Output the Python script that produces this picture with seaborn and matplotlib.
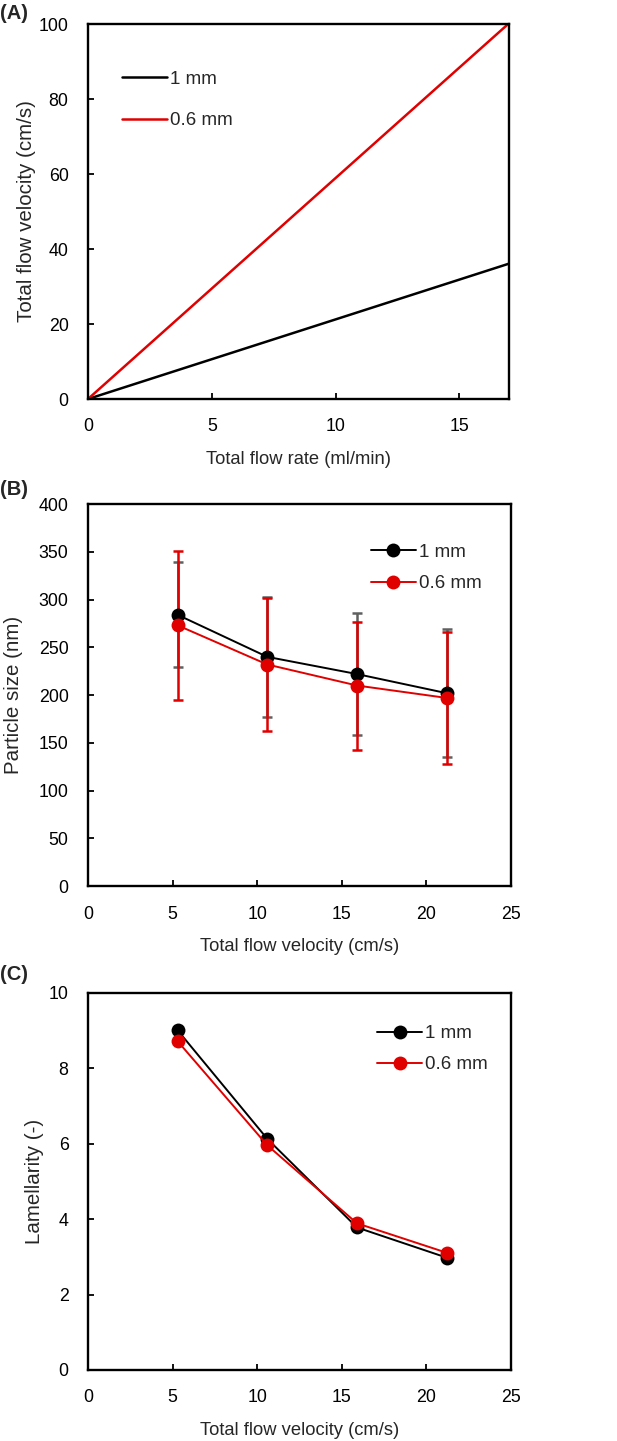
import numpy as np
import pandas as pd
import seaborn as sns
import matplotlib.pyplot as plt

# Panel A: total flow velocity vs total flow rate
flow_rate = [0, 17]
vel_1mm = [0, 36.1]
vel_06mm = [0, 100.2]

# Panels B and C: measured at four flow velocities
velocity = [5.3, 10.6, 15.9, 21.2]
size_1mm = [284, 240, 222, 202]
size_1mm_err = [55, 63, 64, 67]
size_06mm = [273, 232, 210, 197]
size_06mm_err = [78, 70, 67, 69]
lam_1mm = [9.01, 6.13, 3.78, 2.98]
lam_06mm = [8.72, 5.96, 3.89, 3.11]

labels = ["1 mm", "0.6 mm"]
colors = {"1 mm": "black", "0.6 mm": "#e00000"}

sns.set_style("white")
plt.rcParams['font.family'] = ['Liberation Sans', 'DejaVu Sans']
plt.rcParams['font.size'] = 13

fig = plt.figure(figsize=(6.17, 14.41), dpi=100)
ax_a = fig.add_axes([0.1426, 0.7231, 0.6823, 0.2602])
ax_b = fig.add_axes([0.1426, 0.3851, 0.6855, 0.2651])
ax_c = fig.add_axes([0.1426, 0.0493, 0.6855, 0.2616])

def style_axes(ax, ypad):
    for s in ax.spines.values():
        s.set_linewidth(1.7)
        s.set_color("black")
    ax.tick_params(direction="in", length=4, width=1.3, labelsize=12.8, pad=14,
                   bottom=True, left=True, colors="black")
    ax.xaxis.label.set_size(13.2)
    ax.yaxis.label.set_size(14.8)
    ax.xaxis.labelpad = 11
    ax.yaxis.labelpad = ypad

# (A)
df_a = pd.DataFrame({
    "Total flow rate": flow_rate * 2,
    "Velocity": vel_1mm + vel_06mm,
    "Channel": [labels[0]] * 2 + [labels[1]] * 2,
})
sns.lineplot(data=df_a, x="Total flow rate", y="Velocity", hue="Channel",
             palette=colors, linewidth=1.8, ax=ax_a)
ax_a.set_xlim(0, 17)
ax_a.set_ylim(0, 100)
ax_a.set_xticks([0, 5, 10, 15])
ax_a.set_yticks(range(0, 101, 20))
ax_a.set_xlabel("Total flow rate (ml/min)")
ax_a.set_ylabel("Total flow velocity (cm/s)")
ax_a.legend(frameon=False, loc="upper left", bbox_to_anchor=(0.04, 0.921),
            handlelength=2.4, handletextpad=0.15, labelspacing=1.3, fontsize=13.5)
style_axes(ax_a, 2)

# (B)
ax_b.errorbar(velocity, size_1mm, yerr=size_1mm_err, fmt="none", ecolor="#606060",
              elinewidth=1.8, capsize=3.5, capthick=1.8, zorder=1)
ax_b.errorbar(velocity, size_06mm, yerr=size_06mm_err, fmt="none", ecolor="#e00000",
              elinewidth=1.8, capsize=3.5, capthick=1.8, zorder=2)
df_b = pd.DataFrame({
    "Velocity": velocity * 2,
    "Size": size_1mm + size_06mm,
    "Channel": [labels[0]] * 4 + [labels[1]] * 4,
})
sns.lineplot(data=df_b, x="Velocity", y="Size", hue="Channel", palette=colors,
             marker="o", markersize=10, markeredgewidth=0, linewidth=1.4, ax=ax_b, zorder=3)
ax_b.set_xlim(0, 25)
ax_b.set_ylim(0, 400)
ax_b.set_xticks(range(0, 26, 5))
ax_b.set_yticks(range(0, 401, 50))
ax_b.set_xlabel("Total flow velocity (cm/s)")
ax_b.set_ylabel("Particle size (nm)")
ax_b.legend(frameon=False, loc="upper right", bbox_to_anchor=(0.97, 0.94),
            handlelength=2.4, handletextpad=0.15, labelspacing=0.75, fontsize=13.5)
style_axes(ax_b, 11)

# (C)
df_c = pd.DataFrame({
    "Velocity": velocity * 2,
    "Lamellarity": lam_1mm + lam_06mm,
    "Channel": [labels[0]] * 4 + [labels[1]] * 4,
})
sns.lineplot(data=df_c, x="Velocity", y="Lamellarity", hue="Channel", palette=colors,
             marker="o", markersize=10, markeredgewidth=0, linewidth=1.4, ax=ax_c)
ax_c.set_xlim(0, 25)
ax_c.set_ylim(0, 10)
ax_c.set_xticks(range(0, 26, 5))
ax_c.set_yticks(range(0, 11, 2))
ax_c.set_xlabel("Total flow velocity (cm/s)")
ax_c.set_ylabel("Lamellarity (-)")
ax_c.legend(frameon=False, loc="upper right", bbox_to_anchor=(0.985, 0.96),
            handlelength=2.4, handletextpad=0.15, labelspacing=0.75, fontsize=13.5)
style_axes(ax_c, 3)

for lbl, y in [("(A)", 0.9905), ("(B)", 0.6605), ("(C)", 0.3235)]:
    fig.text(0.0, y, lbl, fontsize=14.5, fontweight="bold", va="center", ha="left")

fig.savefig("out.png", dpi=100, facecolor="white")
